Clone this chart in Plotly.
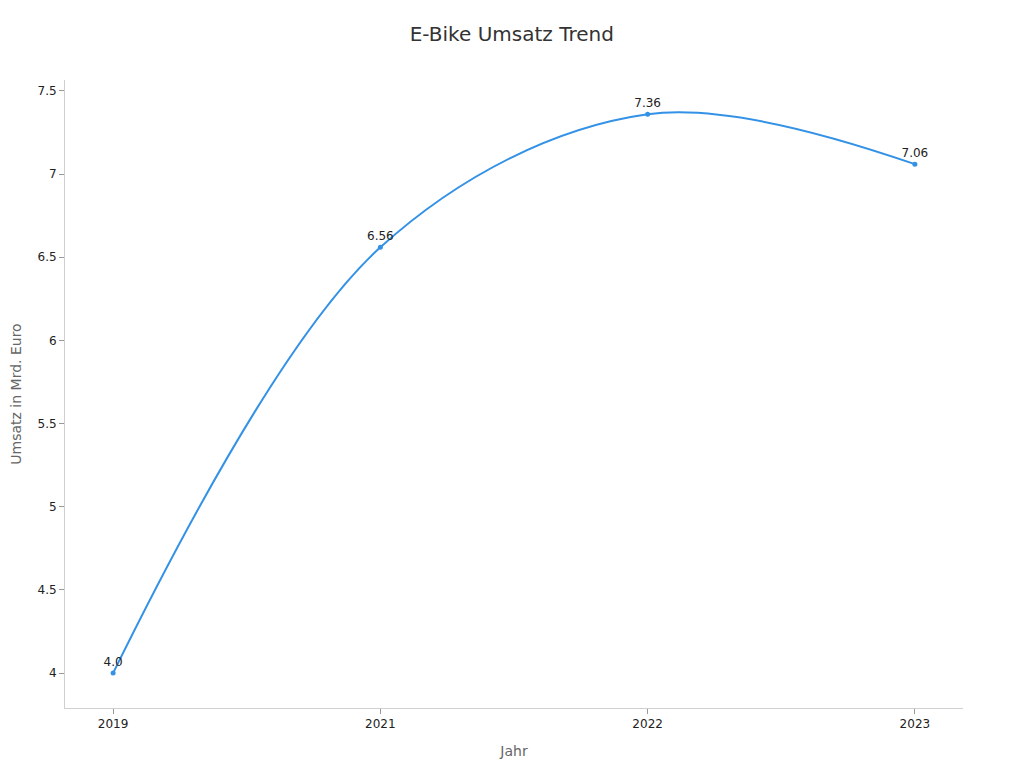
import plotly.graph_objects as go

# Daten
jahre = ["2019", "2021", "2022", "2023"]
umsatz = [4.0, 6.56, 7.36, 7.06]
labels = ["4.0", "6.56", "7.36", "7.06"]

fig = go.Figure()
fig.add_trace(go.Scatter(
    x=jahre, y=umsatz,
    mode="lines+markers+text",
    text=labels,
    textposition="top center",
    textfont=dict(size=12, color="#222222"),
    line=dict(color="#3391e6", width=2, shape="spline", smoothing=1.0),
    marker=dict(color="#3391e6", size=5),
    showlegend=False,
))

fig.update_layout(
    width=1024, height=768,
    font=dict(family="DejaVu Sans", size=12, color="#222222"),
    title=dict(text="E-Bike Umsatz Trend", x=0.492, xanchor="center", y=0.975,
               font=dict(size=20, color="#333333")),
    plot_bgcolor="white", paper_bgcolor="white",
    margin=dict(l=57, r=69, t=72, b=68),
    xaxis=dict(
        type="category",
        title=dict(text="Jahr", font=dict(size=14, color="#666666"), standoff=15),
        range=[-0.18, 3.18],
        showline=True, linecolor="#d0d0d0", linewidth=1,
        ticks="outside", tickcolor="#999999", ticklen=5,
        showgrid=False, zeroline=False,
    ),
    yaxis=dict(
        title=dict(text="Umsatz in Mrd. Euro", font=dict(size=14, color="#666666"), standoff=18),
        automargin=False,
        range=[3.79, 7.566],
        dtick=0.5,
        showline=True, linecolor="#d0d0d0", linewidth=1,
        ticks="outside", tickcolor="#999999", ticklen=5,
        showgrid=False, zeroline=False,
    ),
)

fig.write_html("out.html")
